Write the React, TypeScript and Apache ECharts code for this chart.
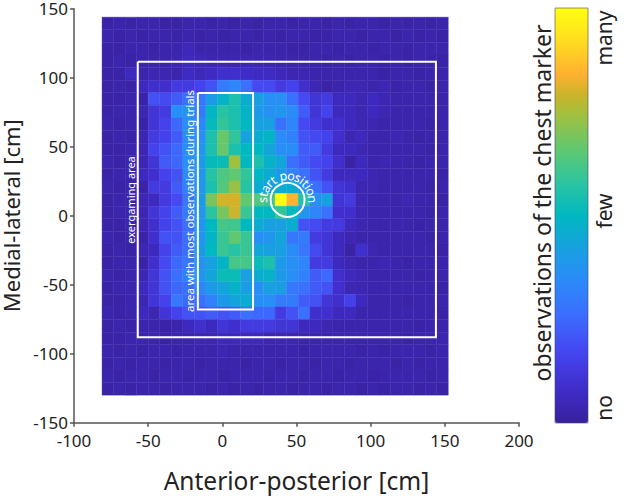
import { useEffect, useRef } from "react"
import * as echarts from "echarts"

const FONT = '"Noto Sans", sans-serif'

// value axes, cm
const xTicks = { min: -100, max: 200, interval: 50 }
const yTicks = { min: -150, max: 150, interval: 50 }

// grid of observation cells, left column and top row centres, cm
const xFirstCell = -77.2
const xCellSize = 7.78
const yFirstCell = 139.3
const yCellSize = 9.13

// 0 (no) .. 100 (many), rows from the top, columns from the left
const row00 = [2, 3, 2, 3, 3, 2, 2, 3, 3, 2, 3, 2, 3, 2, 3, 3, 2, 3, 3, 2, 3, 2, 3, 3, 2, 3, 2, 3, 2, 3]
const row01 = [3, 2, 3, 2, 3, 3, 2, 3, 2, 3, 2, 3, 3, 2, 3, 2, 3, 3, 2, 2, 3, 3, 2, 3, 3, 2, 3, 2, 3, 2]
const row02 = [2, 2, 3, 3, 2, 3, 3, 5, 3, 3, 3, 3, 2, 3, 3, 3, 2, 2, 3, 3, 2, 3, 3, 2, 3, 3, 2, 3, 3, 3]
const row03 = [2, 3, 2, 3, 3, 3, 4, 6, 5, 4, 4, 4, 4, 4, 4, 3, 3, 3, 3, 2, 3, 2, 3, 3, 2, 3, 2, 3, 3, 2]
const row04 = [2, 2, 6, 3, 4, 4, 3, 7, 5, 7, 9, 9, 8, 7, 7, 5, 4, 4, 3, 3, 3, 3, 3, 3, 2, 3, 3, 2, 3, 3]
const row05 = [2, 3, 2, 6, 9, 9, 13, 13, 16, 20, 30, 33, 27, 18, 18, 13, 16, 9, 4, 2, 3, 4, 4, 3, 4, 2, 3, 3, 2, 3]
const row06 = [2, 2, 3, 2, 20, 18, 22, 27, 29, 40, 48, 55, 46, 42, 36, 36, 27, 18, 11, 13, 6, 6, 4, 6, 4, 3, 3, 3, 3, 3]
const row07 = [2, 3, 3, 4, 11, 13, 36, 37, 30, 49, 57, 55, 48, 40, 37, 38, 35, 22, 11, 16, 6, 6, 4, 6, 4, 3, 3, 3, 3, 3]
const row08 = [3, 2, 3, 2, 11, 16, 25, 36, 33, 51, 59, 55, 50, 42, 42, 27, 33, 18, 13, 9, 9, 6, 4, 4, 3, 3, 3, 3, 2, 3]
const row09 = [2, 3, 2, 4, 13, 16, 22, 35, 36, 55, 67, 59, 43, 46, 49, 35, 32, 20, 18, 16, 9, 4, 6, 3, 3, 4, 3, 2, 3, 3]
const row10 = [2, 2, 3, 4, 16, 20, 25, 36, 38, 55, 67, 55, 50, 50, 44, 36, 35, 22, 22, 13, 6, 6, 4, 3, 3, 3, 3, 3, 2, 3]
const row11 = [3, 2, 3, 4, 11, 22, 25, 36, 40, 51, 52, 74, 50, 55, 48, 44, 27, 22, 18, 16, 9, 2, 6, 3, 4, 3, 3, 2, 3, 3]
const row12 = [2, 3, 3, 6, 9, 16, 20, 35, 38, 57, 63, 66, 59, 50, 46, 40, 32, 27, 20, 13, 6, 6, 6, 4, 3, 3, 3, 3, 3, 2]
const row13 = [3, 2, 3, 2, 13, 13, 22, 32, 38, 55, 64, 73, 57, 46, 42, 46, 46, 36, 27, 20, 11, 9, 4, 4, 3, 3, 3, 3, 2, 3]
const row14 = [2, 3, 2, 4, 6, 13, 18, 29, 40, 69, 80, 80, 66, 64, 61, 100, 85, 57, 36, 42, 11, 13, 4, 3, 3, 3, 4, 3, 3, 2]
const row15 = [2, 3, 3, 4, 11, 16, 22, 30, 38, 58, 69, 79, 60, 50, 50, 59, 50, 38, 33, 27, 9, 9, 4, 3, 3, 3, 3, 3, 2, 3]
const row16 = [2, 2, 3, 4, 9, 16, 20, 27, 38, 50, 62, 61, 50, 46, 42, 42, 46, 20, 18, 13, 13, 6, 4, 3, 3, 3, 3, 2, 3, 3]
const row17 = [3, 2, 3, 2, 9, 20, 20, 27, 38, 49, 60, 66, 60, 36, 38, 44, 29, 30, 13, 11, 6, 4, 3, 3, 3, 3, 3, 3, 2, 3]
const row18 = [2, 3, 2, 4, 6, 16, 22, 27, 40, 50, 60, 57, 60, 44, 42, 42, 35, 29, 18, 11, 6, 2, 9, 4, 3, 3, 3, 3, 3, 2]
const row19 = [2, 3, 3, 2, 9, 18, 25, 29, 37, 42, 49, 62, 62, 52, 55, 40, 36, 33, 13, 13, 6, 4, 3, 3, 4, 3, 2, 3, 3, 3]
const row20 = [3, 2, 3, 4, 11, 20, 27, 32, 38, 44, 52, 52, 42, 46, 48, 40, 36, 32, 22, 25, 9, 6, 4, 3, 3, 3, 3, 2, 3, 3]
const row21 = [2, 3, 3, 6, 11, 20, 25, 27, 33, 40, 43, 48, 41, 36, 42, 41, 29, 27, 22, 20, 9, 4, 4, 3, 3, 3, 3, 3, 3, 2]
const row22 = [2, 2, 3, 4, 11, 16, 29, 25, 27, 32, 40, 43, 46, 36, 36, 30, 30, 22, 20, 11, 9, 15, 6, 3, 3, 3, 2, 3, 3, 3]
const row23 = [3, 2, 3, 6, 4, 11, 16, 20, 20, 22, 20, 22, 27, 25, 25, 13, 20, 27, 9, 9, 6, 6, 3, 3, 3, 3, 3, 3, 3, 2]
const row24 = [2, 3, 2, 3, 3, 2, 3, 6, 9, 6, 11, 9, 13, 13, 13, 11, 11, 6, 6, 4, 3, 3, 3, 3, 3, 3, 3, 2, 3, 3]
const row25 = [2, 2, 3, 3, 3, 2, 3, 3, 4, 4, 6, 6, 6, 6, 4, 4, 4, 3, 3, 3, 3, 3, 3, 3, 3, 3, 2, 3, 3, 3]
const row26 = [3, 2, 3, 2, 3, 3, 2, 3, 3, 3, 4, 3, 3, 3, 3, 3, 3, 2, 3, 3, 3, 3, 2, 3, 2, 3, 3, 3, 2, 3]
const row27 = [2, 3, 2, 3, 3, 2, 3, 3, 2, 3, 3, 3, 2, 3, 3, 2, 3, 3, 2, 3, 3, 2, 3, 3, 3, 2, 3, 2, 3, 3]
const row28 = [3, 2, 3, 3, 2, 3, 3, 2, 3, 3, 2, 3, 3, 3, 2, 3, 3, 2, 3, 3, 2, 3, 3, 2, 3, 3, 3, 3, 2, 3]
const row29 = [2, 3, 2, 3, 3, 2, 3, 3, 3, 2, 3, 2, 3, 2, 3, 3, 2, 3, 3, 2, 3, 3, 2, 3, 2, 3, 3, 2, 3, 2]
const rows = [
  row00, row01, row02, row03, row04, row05, row06, row07, row08, row09,
  row10, row11, row12, row13, row14, row15, row16, row17, row18, row19,
  row20, row21, row22, row23, row24, row25, row26, row27, row28, row29,
]

// annotation shapes, cm
const exergamingArea = [[-57, 111.5], [144, 111.5], [144, -88], [-57, -88], [-57, 111.5]]
const mostObservedArea = [[-16.5, 89], [20.7, 89], [20.7, -68], [-16.5, -68], [-16.5, 89]]
const startPosition = [[44, 11.5]]

const colorStops = [
  "#38209c", "#3f2cc8", "#4545f0", "#3a70ff", "#2a8cf8", "#18a0e0", "#00b8c0",
  "#2cc4a0", "#60c870", "#a0c040", "#c8b428", "#ffb030", "#ffdc20", "#ffff10",
]
const colorOffsets = [0, 8, 17, 27, 35, 42, 50, 58, 66, 74, 79, 84, 92, 100]

// continuous scale with uneven stops, sampled evenly for the visualMap
function sampleColors() {
  const out: string[] = []
  for (let v = 0; v <= 100; v += 2) {
    let i = 0
    while (i < colorOffsets.length - 2 && v > colorOffsets[i + 1]) i++
    const t = (v - colorOffsets[i]) / (colorOffsets[i + 1] - colorOffsets[i])
    out.push(echarts.color.lerp(t, [colorStops[i], colorStops[i + 1]]) as string)
  }
  return out
}

const cells: number[][] = []
rows.forEach((row, j) => {
  row.forEach((v, i) => {
    cells.push([xFirstCell + i * xCellSize, yFirstCell - j * yCellSize, v])
  })
})

const arcText = "start position".split("")
const arcWeights = [0.52, 0.4, 0.58, 0.44, 0.42, 0.34, 0.63, 0.62, 0.52, 0.3, 0.4, 0.3, 0.62, 0.62]

function arcLetters() {
  const cx = 287.5
  const cy = 200.5
  const radius = 25
  const start = 186
  const end = -6
  const total = arcWeights.reduce((a, b) => a + b, 0)
  let used = 0
  return arcText.map((ch, i) => {
    const mid = used + arcWeights[i] / 2
    used += arcWeights[i]
    const deg = start + (end - start) * (mid / total)
    const rad = (deg * Math.PI) / 180
    return {
      type: "text",
      x: cx + radius * Math.cos(rad),
      y: cy - radius * Math.sin(rad),
      rotation: rad - Math.PI / 2,
      z: 20,
      style: {
        text: ch,
        fill: "#fff",
        font: `12.5px ${FONT}`,
        align: "center",
        verticalAlign: "middle",
      },
    }
  })
}

function sideText(text: string, x: number, y: number, size: number, fill = "#222") {
  return {
    type: "text",
    x,
    y,
    rotation: Math.PI / 2,
    z: 20,
    style: {
      text,
      fill,
      font: `${size}px ${FONT}`,
      align: "center",
      verticalAlign: "middle",
    },
  }
}

export default function App() {
  const chartRef = useRef<HTMLDivElement | null>(null)

  useEffect(() => {
    if (!chartRef.current) return
    const chart = echarts.init(chartRef.current, undefined, { renderer: "svg" })

    const axisCommon = {
      type: "value",
      nameLocation: "middle",
      nameTextStyle: { fontFamily: FONT, fontSize: 22, color: "#222" },
      axisLine: { onZero: false, lineStyle: { color: "#555", width: 1.5 } },
      axisTick: { length: 4, lineStyle: { color: "#555", width: 1.5 } },
      axisLabel: { fontFamily: FONT, fontSize: 17, color: "#222" },
      splitLine: { show: false },
    }

    chart.setOption({
      animation: false,
      grid: { left: 74, right: 119, top: 8.7, bottom: 73.3, outerBoundsMode: "none" },
      xAxis: {
        ...axisCommon,
        ...xTicks,
        name: "Anterior-posterior [cm]",
        nameGap: 45,
        nameTextStyle: { ...axisCommon.nameTextStyle, fontSize: 24.5 },
        axisLabel: { ...axisCommon.axisLabel, margin: 9 },
      },
      yAxis: {
        ...axisCommon,
        ...yTicks,
        name: "Medial-lateral [cm]",
        nameGap: 50,
        axisLabel: { ...axisCommon.axisLabel, margin: 6 },
      },
      visualMap: {
        type: "continuous",
        seriesIndex: 0,
        dimension: 2,
        min: 0,
        max: 100,
        left: 555,
        top: 8,
        padding: 0,
        itemWidth: 33,
        itemHeight: 415,
        calculable: false,
        hoverLink: false,
        showLabel: false,
        text: ["", ""],
        inRange: { color: sampleColors() },
      },
      series: [
        {
          type: "custom",
          data: cells,
          encode: { x: 0, y: 1 },
          clip: false,
          z: 1,
          renderItem: (_params: any, api: any) => {
            const [x, y] = api.coord([api.value(0), api.value(1)])
            const [w, h] = api.size([xCellSize, yCellSize])
            const fill = api.visual("color")
            return {
              type: "rect",
              shape: { x: x - w / 2, y: y - h / 2, width: w, height: h },
              style: { fill, stroke: fill, lineWidth: 0.4 },
            }
          },
        },
        {
          type: "line",
          data: exergamingArea,
          showSymbol: false,
          z: 5,
          lineStyle: { color: "#fff", width: 2, join: "miter" },
        },
        {
          type: "line",
          data: mostObservedArea,
          showSymbol: false,
          z: 5,
          lineStyle: { color: "#fff", width: 2, join: "miter" },
        },
        {
          type: "scatter",
          data: startPosition,
          symbol: "circle",
          symbolSize: 34,
          z: 5,
          itemStyle: { color: "rgba(0,0,0,0)", borderColor: "#fff", borderWidth: 2, opacity: 1 },
        },
      ],
      graphic: [
        sideText("exergaming area", 130, 200, 11, "#fff"),
        sideText("area with most observations during trials", 189, 201, 11.5, "#fff"),
        { type: "group", z: 20, children: arcLetters() },
        sideText("observations of the chest marker", 542, 203, 23),
        sideText("many", 604, 38, 21),
        sideText("few", 604, 211, 21),
        sideText("no", 604, 408, 21),
        {
          type: "rect",
          z: 20,
          shape: { x: 555, y: 8, width: 33, height: 415 },
          style: { fill: "none", stroke: "rgba(70,70,90,0.6)", lineWidth: 1 },
        },
      ],
    })

    return () => {
      chart.dispose()
    }
  }, [])

  return (
    <div
      ref={chartRef}
      style={{ position: "absolute", left: 0, top: 0, width: 638, height: 496 }}
    />
  )
}
